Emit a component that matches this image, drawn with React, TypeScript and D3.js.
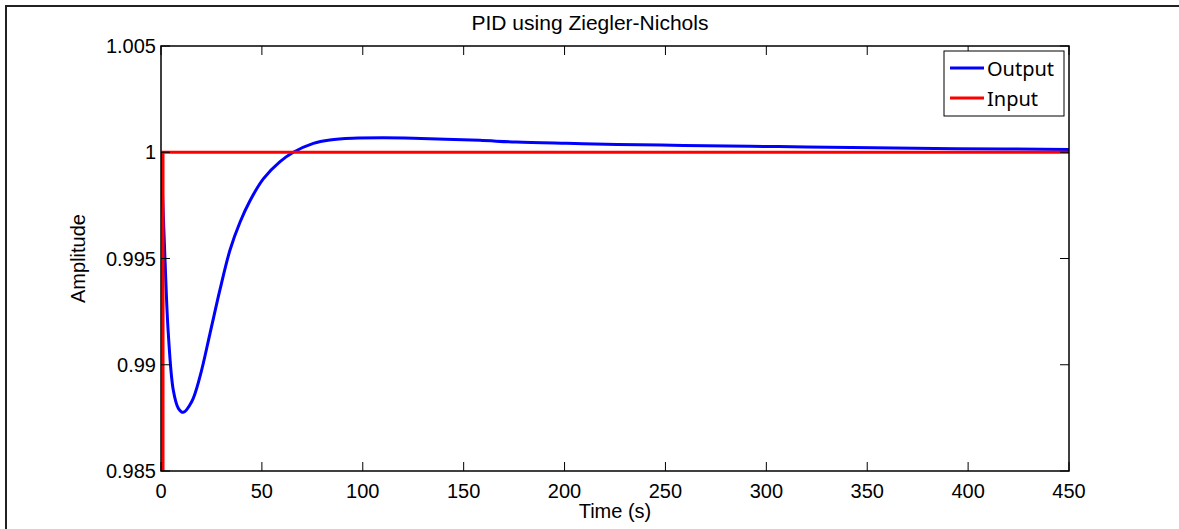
import React from "react";
import * as d3 from "d3";

// step response
const outputTime = [0, 2, 3.6, 6.1, 8.6, 11, 15.2, 19.3, 24.3, 29.2, 34.2, 39.2, 44.1, 50.7, 59, 65.6, 75.5, 83.7, 95, 110, 125, 141, 158, 176, 201, 226, 259, 292, 320, 353, 394, 450];
const outputVals = [1, 0.9949, 0.9915, 0.9888, 0.98795, 0.98776, 0.98826, 0.98944, 0.99148, 0.99352, 0.9954, 0.99672, 0.99772, 0.99875, 0.99956, 1.0, 1.00042, 1.00058, 1.00066, 1.00068, 1.00066, 1.00061, 1.00056, 1.00048, 1.00042, 1.00037, 1.00032, 1.00028, 1.00025, 1.00021, 1.00017, 1.00013];

const inputTime = [0, 1, 1, 450];
const inputVals = [0, 0, 1, 1];

const xTicks = [0, 50, 100, 150, 200, 250, 300, 350, 400, 450];
const yTicks = [0.985, 0.99, 0.995, 1, 1.005];
const yTickLabels = ["0.985", "0.99", "0.995", "1", "1.005"];

const W = 1179;
const H = 529;
const margin = { left: 161, right: 110, top: 46, bottom: 58 };
const font = "'Liberation Sans', Arial, sans-serif";

export default function App() {
    const innerW = W - margin.left - margin.right;
    const innerH = H - margin.top - margin.bottom;

    const x = d3.scaleLinear().domain([0, 450]).range([0, innerW]);
    const y = d3.scaleLinear().domain([0.985, 1.005]).range([innerH, 0]);

    const outPath = d3.line<[number, number]>()
        .x(d => x(d[0]))
        .y(d => y(d[1]))
        .curve(d3.curveCatmullRom.alpha(0.5))(outputTime.map((t, i) => [t, outputVals[i]]));
    const inPath = d3.line<[number, number]>()
        .x(d => x(d[0]))
        .y(d => y(d[1]))(inputTime.map((t, i) => [t, inputVals[i]]));

    const tick = 9;

    return (
        <svg width={W} height={H} style={{ position: "absolute", left: 0, top: 0, background: "#fff" }}>
            <rect x={0} y={0} width={W} height={H} fill="#fff" />
            {/* figure frame */}
            <rect x={6} y={6} width={W + 20} height={H + 20} fill="none" stroke="#222" strokeWidth={2} />

            <text x={590} y={30} textAnchor="middle" fontFamily={font} fontSize={21}>
                PID using Ziegler-Nichols
            </text>

            <g transform={`translate(${margin.left}, ${margin.top})`}>
                <defs>
                    <clipPath id="plotClip">
                        <rect x={0} y={0} width={innerW} height={innerH} />
                    </clipPath>
                </defs>

                <g clipPath="url(#plotClip)">
                    <path d={outPath ?? ""} fill="none" stroke="#0000ff" strokeWidth={3} strokeLinejoin="round" />
                    <path d={inPath ?? ""} fill="none" stroke="#ff0000" strokeWidth={3} />
                </g>

                {/* ticks on all four sides */}
                {xTicks.map(t => (
                    <g key={"x" + t}>
                        <line x1={x(t)} x2={x(t)} y1={innerH} y2={innerH - tick} stroke="#000" />
                        <line x1={x(t)} x2={x(t)} y1={0} y2={tick} stroke="#000" />
                        <text x={x(t)} y={innerH + 27} textAnchor="middle" fontFamily={font} fontSize={20}>
                            {t}
                        </text>
                    </g>
                ))}
                {yTicks.map((v, i) => (
                    <g key={"y" + v}>
                        <line x1={0} x2={tick} y1={y(v)} y2={y(v)} stroke="#000" />
                        <line x1={innerW} x2={innerW - tick} y1={y(v)} y2={y(v)} stroke="#000" />
                        <text x={-5} y={y(v)} dy="0.36em" textAnchor="end" fontFamily={font} fontSize={20}>
                            {yTickLabels[i]}
                        </text>
                    </g>
                ))}

                <rect x={0} y={0} width={innerW} height={innerH} fill="none" stroke="#000" strokeWidth={1.5} />

                <text x={innerW / 2} y={innerH + 47} textAnchor="middle" fontFamily={font} fontSize={20}>
                    Time (s)
                </text>
                <text transform={`translate(${-76}, ${innerH / 2}) rotate(-90)`} textAnchor="middle" fontFamily={font} fontSize={20}>
                    Amplitude
                </text>

                {/* legend */}
                <g transform={`translate(${innerW - 125}, 5)`}>
                    <rect x={0} y={0} width={120} height={65} fill="#fff" stroke="#000" strokeWidth={1} />
                    <line x1={6} x2={40} y1={17} y2={17} stroke="#0000ff" strokeWidth={3} />
                    <text x={43} y={25} fontFamily="'Noto Sans', 'Open Sans', sans-serif" fontSize={20}>Output</text>
                    <line x1={6} x2={40} y1={47} y2={47} stroke="#ff0000" strokeWidth={3} />
                    <text x={43} y={55} fontFamily="'Noto Sans', 'Open Sans', sans-serif" fontSize={20}>Input</text>
                </g>
            </g>
        </svg>
    );
}
